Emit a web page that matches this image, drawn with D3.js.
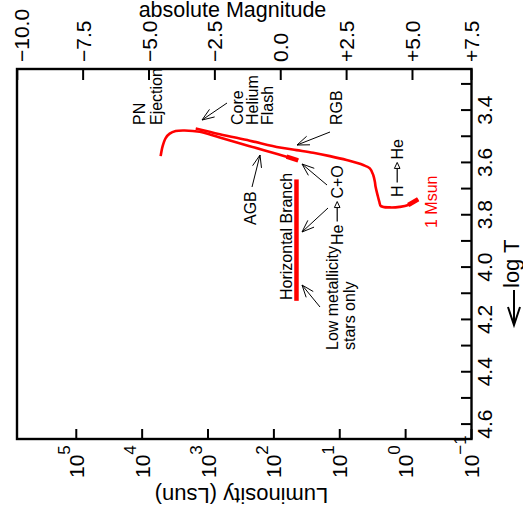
<!DOCTYPE html>
<html>
<head>
<meta charset="utf-8">
<script src="https://cdn.jsdelivr.net/npm/d3@7"></script>
<style>
body{margin:0;background:#fff}
svg{display:block}
text{font-family:"Liberation Sans",Arial,Helvetica,sans-serif}
</style>
</head>
<body>
<svg id="hr" width="523" height="512"></svg>
<script>
// tick values
var magTicks = [-10, -7.5, -5, -2.5, 0, 2.5, 5, 7.5]
var magLabels = ["\u221210.0", "\u22127.5", "\u22125.0", "\u22122.5", "0.0", "+2.5", "+5.0", "+7.5"]
var lumExps = [5, 4, 3, 2, 1, 0, -1]
var tempTicks = [3.3, 3.4, 3.5, 3.6, 3.7, 3.8, 3.9, 4.0, 4.1, 4.2, 4.3, 4.4, 4.5, 4.6]
var tempLabels = ["3.4", "3.6", "3.8", "4.0", "4.2", "4.4", "4.6"]

// 1 Msun track, [log L, log T]
var mainTrack = [[-0.19, 3.741], [-0.04, 3.763], [0.09, 3.770], [0.24, 3.772], [0.375, 3.767],
	[0.40, 3.750], [0.426, 3.725], [0.456, 3.693], [0.467, 3.674], [0.492, 3.648], [0.543, 3.623],
	[0.644, 3.610], [0.897, 3.591], [1.15, 3.576], [1.404, 3.563], [1.657, 3.553], [1.91, 3.543],
	[2.366, 3.517], [2.822, 3.492], [3.187, 3.470]]
var mainSeq = [[-0.19, 3.741], [-0.04, 3.763]]
var agbTrack = [[1.632, 3.592], [1.808, 3.578], [2.366, 3.538], [2.822, 3.505], [3.126, 3.483],
	[3.354, 3.478], [3.491, 3.480], [3.582, 3.490], [3.643, 3.507], [3.689, 3.538], [3.719, 3.576]]
var redClump = [[1.632, 3.592], [1.808, 3.578]]
var horizBranch = [[1.657, 3.665], [1.657, 4.129]]

function main(){
	var svg = d3.select('svg#hr')
	var box = {left: 17, right: 471.5, top: 69, bottom: 439}
	var x = d3.scaleLinear().domain([5.9, -1]).range([box.left, box.right]).clamp(true)
	var y = d3.scaleLinear().domain([3.243, 4.657]).range([box.top, box.bottom])
	var magX = function(m){ return x((4.74 - m) / 2.5) }
	var red = '#ff0000'

	var line = d3.line()
		.x(function(d){ return x(d[0]) })
		.y(function(d){ return y(d[1]) })
		.curve(d3.curveCatmullRom.alpha(0.5))

	// tracks
	svg.append('path').attr('d', line(mainTrack))
		.style('fill', 'none').style('stroke', red).style('stroke-width', 2.6)
	svg.append('path').attr('d', line(agbTrack))
		.style('fill', 'none').style('stroke', red).style('stroke-width', 2.6)
	svg.selectAll('.thick')
		.data([mainSeq, redClump, horizBranch])
		.enter().append('path')
		.attr('class', 'thick')
		.attr('d', d3.line().x(function(d){ return x(d[0]) }).y(function(d){ return y(d[1]) }))
		.style('fill', 'none').style('stroke', red).style('stroke-width', 4.5)

	// frame
	svg.append('rect')
		.attr('x', box.left).attr('y', box.top)
		.attr('width', box.right - box.left).attr('height', box.bottom - box.top)
		.style('fill', 'none').style('stroke', '#000').style('stroke-width', 2.4)

	// top axis: absolute magnitude
	svg.selectAll('.mtick').data(magTicks).enter().append('line')
		.attr('x1', magX).attr('x2', magX)
		.attr('y1', box.top).attr('y2', box.top + 11)
		.style('stroke', '#000').style('stroke-width', 2)
	svg.selectAll('.mlab').data(magTicks).enter().append('text')
		.attr('transform', function(d){ return 'translate(' + (Math.max(magX(d), 21.5) + 7.5) + ',62) rotate(-90)' })
		.style('font-size', '21px')
		.text(function(d, i){ return magLabels[i] })
	svg.append('text').attr('x', 232.5).attr('y', 17)
		.attr('text-anchor', 'middle').style('font-size', '21.5px')
		.text('absolute Magnitude')

	// bottom axis: luminosity
	svg.selectAll('.ltick').data(lumExps).enter().append('line')
		.attr('x1', function(d){ return x(d) }).attr('x2', function(d){ return x(d) })
		.attr('y1', box.bottom).attr('y2', box.bottom - 10)
		.style('stroke', '#000').style('stroke-width', 2)
	var lt = svg.selectAll('.llab').data(lumExps).enter().append('text')
		.attr('transform', function(d){ return 'translate(' + (x(d) + 7.5) + ',478) rotate(-90)' })
		.style('font-size', '21px')
	lt.append('tspan').text('10')
	lt.append('tspan').attr('dy', -13.5).style('font-size', '17px')
		.text(function(d){ return d < 0 ? '\u2212' + (-d) : String(d) })
	svg.append('text')
		.attr('transform', 'translate(241.5,488) rotate(180)')
		.attr('text-anchor', 'middle').style('font-size', '22px')
		.text('Luminosity (Lsun)')

	// right axis: log T
	svg.selectAll('.ttick').data(tempTicks).enter().append('line')
		.attr('y1', function(d){ return y(d) }).attr('y2', function(d){ return y(d) })
		.attr('x1', box.right).attr('x2', box.right - 10.5)
		.style('stroke', '#000').style('stroke-width', 2)
	svg.selectAll('.tlab').data(tempLabels).enter().append('text')
		.attr('transform', function(d){ return 'translate(492,' + y(+d) + ') rotate(-90)' })
		.attr('text-anchor', 'middle').style('font-size', '21px')
		.text(function(d){ return d })
	svg.append('text')
		.attr('transform', 'translate(519,288) rotate(-90)')
		.style('font-size', '22px')
		.text('log T')
	svg.append('path')
		.attr('d', 'M514,290 L514,325 M508,307 L514,325 L520,307')
		.style('fill', 'none').style('stroke', '#000').style('stroke-width', 2)

	// annotation text, rotated, reading upward
	function note(lines, bx, by, step, color){
		lines.forEach(function(t, i){
			svg.append('text')
				.attr('transform', 'translate(' + (bx + i * step) + ',' + by + ') rotate(-90)')
				.style('font-size', '16px').style('fill', color || '#000')
				.text(t)
		})
	}
	note(['PN', 'Ejection'], 145, 125, 17)
	note(['Core', 'Helium', 'Flash'], 243, 125, 15)
	note(['RGB'], 342, 125, 0)
	note(['AGB'], 256, 225, 0)
	note(['Horizontal Branch'], 291.5, 300, 0)
	note(['Low metallicity', 'stars only'], 338, 350, 17)
	note(['1 Msun'], 437, 228, 0, red)

	// fusion labels with small arrow
	function fusion(a, b, bx, by){
		var g = svg.append('g').attr('transform', 'translate(' + bx + ',' + by + ') rotate(-90)')
		var t1 = g.append('text').style('font-size', '16px').text(a)
		var w = t1.node().getComputedTextLength()
		var s = w + 3, e = s + 20, m = -5.8
		g.append('line').attr('x1', s).attr('x2', e - 6).attr('y1', m).attr('y2', m)
			.style('stroke', '#000').style('stroke-width', 1.2)
		g.append('path').attr('d', 'M' + e + ',' + m + ' L' + (e - 6) + ',' + (m - 2.8) + ' L' + (e - 6) + ',' + (m + 2.8) + ' Z')
			.style('fill', '#fff').style('stroke', '#000').style('stroke-width', 1)
		g.append('text').attr('x', e + 3).style('font-size', '16px').text(b)
	}
	fusion('He', 'C+O', 343, 245)
	fusion('H', 'He', 403, 197)

	// pointer arrows [tailX, tailY, headX, headY]
	var pointers = [[227, 103, 202, 120], [330, 132, 297, 145], [252, 187, 260, 155],
		[327, 185, 302, 164], [328, 208, 302, 232], [320, 307, 302, 285]]
	pointers.forEach(function(p){
		var ang = Math.atan2(p[1] - p[3], p[0] - p[2]), L = 13, da = 0.36
		var d = 'M' + p[0] + ',' + p[1] + ' L' + p[2] + ',' + p[3] +
			' M' + (p[2] + L * Math.cos(ang - da)) + ',' + (p[3] + L * Math.sin(ang - da)) +
			' L' + p[2] + ',' + p[3] +
			' L' + (p[2] + L * Math.cos(ang + da)) + ',' + (p[3] + L * Math.sin(ang + da))
		svg.append('path').attr('d', d)
			.style('fill', 'none').style('stroke', '#000').style('stroke-width', 1)
	})
}
main()
</script>
</body>
</html>
